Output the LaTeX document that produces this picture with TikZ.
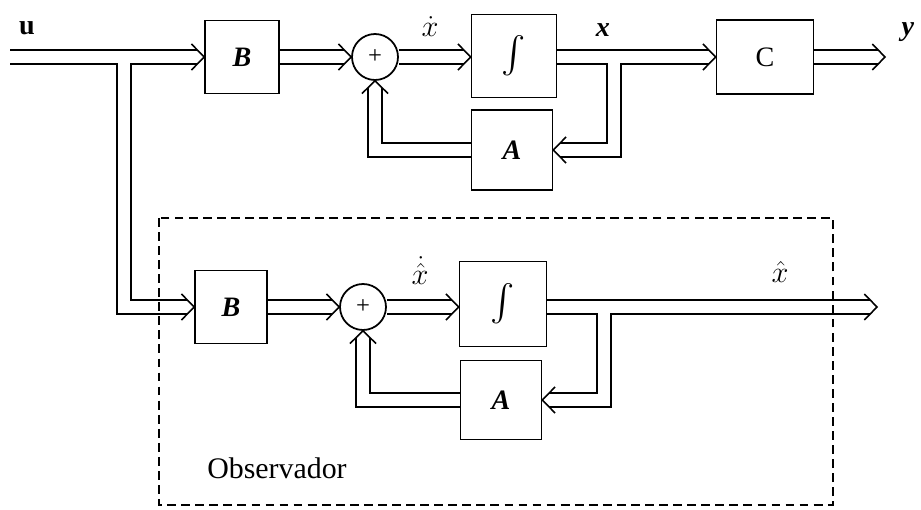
\documentclass[tikz,border=0pt]{standalone}
\usepackage{fontspec}
\usepackage{amsmath}
\usepackage{tikz}
\usetikzlibrary{arrows.meta, positioning, calc}
\setmainfont{Liberation Serif}

% punta abierta para lineas dobles
\pgfdeclarearrow{
  name = Vector,
  setup code = {
    \pgfarrowssettipend{0pt}
    \pgfarrowssetlineend{-3.9pt}
    \pgfarrowssetbackend{-7.2pt}
    \pgfarrowssetvisualbackend{-3.9pt}
  },
  drawing code = {
    \pgfsetlinewidth{0.9pt}
    \pgfsetdash{}{0pt}
    \pgfsetmiterjoin
    \pgfpathmoveto{\pgfqpoint{-7.2pt}{7.4pt}}
    \pgfpathlineto{\pgfqpoint{0pt}{0pt}}
    \pgfpathlineto{\pgfqpoint{-7.2pt}{-7.4pt}}
    \pgfusepathqstroke
  },
}

\tikzset{
  bloque/.style={draw, line width=1pt, inner sep=0pt, font=\fontsize{16}{18}\selectfont},
  integ/.style={bloque, font=\fontsize{21}{24}\selectfont},
  suma/.style={draw, circle, line width=1pt, minimum size=0.92cm, inner sep=0pt, font=\fontsize{14}{16}\selectfont},
  bus/.style={double, double distance=7pt, line width=0.9pt, -Vector},
  etiqueta/.style={font=\fontsize{16}{18}\selectfont, inner sep=1pt},
}

\begin{document}
\begin{tikzpicture}[x=0.02cm, y=-0.02cm]
  \useasboundingbox (0,0) rectangle (921,510);

  % Planta
  \node[bloque, minimum width=1.48cm, minimum height=1.46cm] (b1) at (242,57) {\textbf{\textit{B}}};
  \node[suma] (s1) at (375,57) {+};
  \node[integ, minimum width=1.70cm, minimum height=1.66cm] (i1) at (514,56) {$\int$};
  \node[bloque, minimum width=1.94cm, minimum height=1.48cm] (c) at (765,57) {C};
  \node[bloque, minimum width=1.62cm, minimum height=1.60cm] (a1) at (512,150) {\textbf{\textit{A}}};

  % Observador
  \node[bloque, minimum width=1.44cm, minimum height=1.46cm] (b2) at (231,307) {\textbf{\textit{B}}};
  \node[suma] (s2) at (363,307) {+};
  \node[integ, minimum width=1.74cm, minimum height=1.70cm] (i2) at (503,304) {$\int$};
  \node[bloque, minimum width=1.62cm, minimum height=1.58cm] (a2) at (501,400) {\textbf{\textit{A}}};

  % Puntos libres y derivaciones
  \coordinate (uin) at (10,57);
  \coordinate (yout) at (885,57);
  \coordinate (xout) at (877,307);
  \coordinate (br) at (124,63.2);
  \coordinate (fb1) at (614,63.2);
  \coordinate (fb2) at (604,313.2);

  % Senales (lineas dobles)
  \draw[bus] (uin) -- (b1.west);
  \draw[bus] (br) |- (b2.west);
  \draw[bus] (b1.east) -- (s1.west);
  \draw[bus] (s1.east) -- (s1.east -| i1.west);
  \draw[bus] (i1.east |- c.west) -- (c.west);
  \draw[bus] (c.east) -- (yout);
  \draw[bus] (fb1) |- (a1.east);
  \draw[bus] (a1.west) -| (s1.south);

  \draw[bus] (b2.east) -- (s2.west);
  \draw[bus] (s2.east) -- (s2.east -| i2.west);
  \draw[bus] (i2.east |- xout) -- (xout);
  \draw[bus] (fb2) |- (a2.east);
  \draw[bus] (a2.west) -| (s2.south);

  % Marco del observador
  \draw[line width=0.8pt, dash pattern=on 5pt off 3pt] (159,218) rectangle (833,505);

  % Etiquetas
  \node[etiqueta] (lu) at (27,28) {\textbf{u}};
  \node[etiqueta] (lxd) at (430,27) {$\dot{x}$};
  \node[etiqueta] (lx) at (603,30) {\textbf{\textit{x}}};
  \node[etiqueta] (ly) at (908,32) {\textbf{\textit{y}}};
  \node[etiqueta] (lxhd) at (420,271) {$\dot{\hat{x}}$};
  \node[etiqueta] (lxh) at (780,272) {$\hat{x}$};
  \node[font=\fontsize{17}{20}\selectfont] (lobs) at (277,468) {Observador};
\end{tikzpicture}
\end{document}
